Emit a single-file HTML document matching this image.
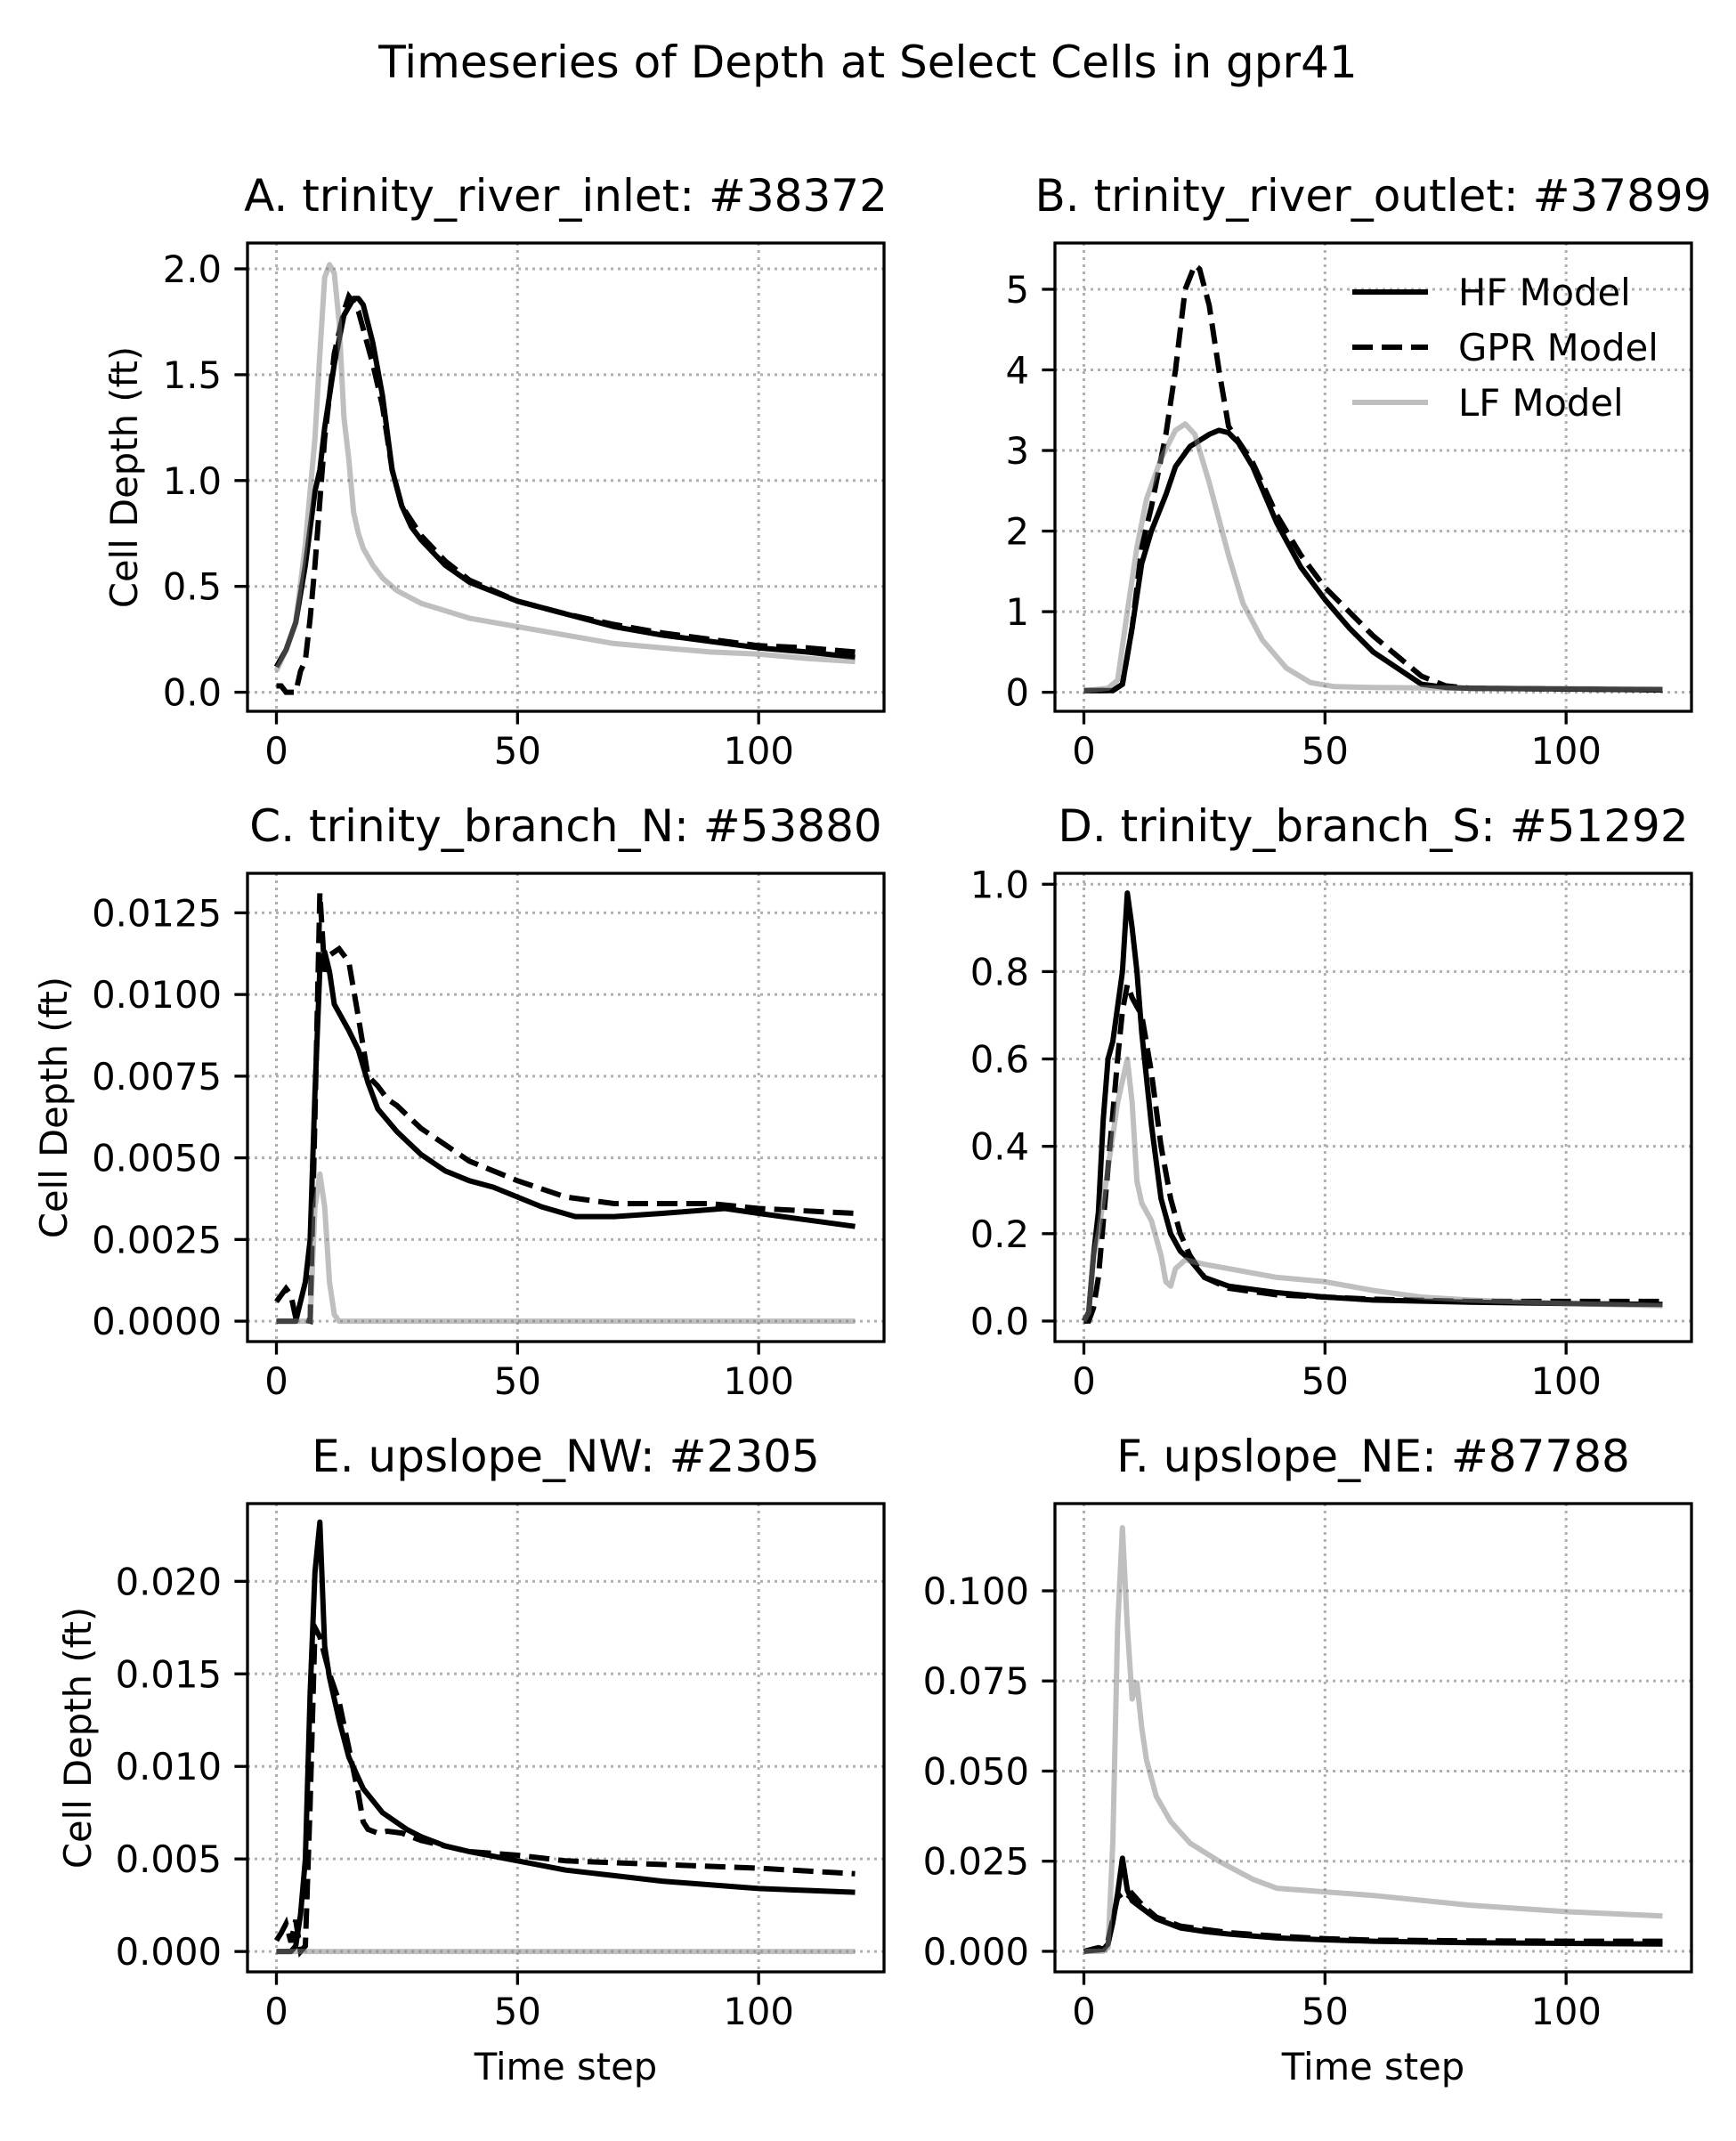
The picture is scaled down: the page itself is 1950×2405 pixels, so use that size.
<!DOCTYPE html>
<html><head><meta charset="utf-8"><style>
html,body{margin:0;padding:0;background:#fff;}
svg text{font-family:"DejaVu Sans","Liberation Sans",sans-serif;fill:#000;}
</style></head><body>
<svg id="fig" xmlns="http://www.w3.org/2000/svg" width="1950" height="2400" viewBox="0 0 1950 2400">
<rect width="1950" height="2400" fill="#fff"/>
<text x="975" y="87" font-size="50" text-anchor="middle">Timeseries of Depth at Select Cells in gpr41</text>
</svg>
<script>
// Panel A
const aHFx=[0,2,4,6,8,9,10,12,14,16,17,18,20,22,24,26,28,30,35,40,50,60,70,80,90,100,110,120];
const aHFy=[0.12,0.2,0.33,0.6,0.95,1.05,1.25,1.55,1.78,1.86,1.86,1.83,1.65,1.4,1.05,0.88,0.78,0.72,0.6,0.52,0.43,0.37,0.31,0.27,0.24,0.21,0.19,0.165];
const aGPx=[0,1,2,3,4,5,6,7,8,10,12,14,15,16,17,20,22,24,26,30,35,40,50,60,70,80,90,100,110,120];
const aGPy=[0.03,0.03,0,0,0,0.1,0.15,0.35,0.6,1.2,1.6,1.8,1.87,1.84,1.8,1.55,1.35,1.05,0.88,0.74,0.62,0.53,0.43,0.37,0.32,0.28,0.25,0.22,0.21,0.19];
const aLFx=[0,2,4,6,8,9,10,11,12,13,14,15,16,17,18,20,22,25,30,40,50,60,70,80,90,100,110,120];
const aLFy=[0.1,0.2,0.33,0.7,1.2,1.6,1.96,2.02,1.98,1.75,1.3,1.1,0.85,0.75,0.68,0.6,0.54,0.48,0.42,0.35,0.31,0.27,0.23,0.21,0.19,0.18,0.16,0.145];
const aTicks=[0,0.5,1,1.5,2]; const aTickLabels=["0.0","0.5","1.0","1.5","2.0"];
// Panel B
const bHFx=[0,6,8,10,12,14,17,19,22,26,28,30,32,35,40,45,50,55,60,65,70,75,80,100,120];
const bHFy=[0.02,0.02,0.1,0.8,1.6,2.0,2.45,2.8,3.05,3.2,3.25,3.22,3.1,2.8,2.1,1.55,1.15,0.8,0.5,0.3,0.1,0.06,0.05,0.04,0.03];
const bGPx=[0,6,8,10,12,14,17,19,20,21,23,24,26,28,30,35,40,45,50,55,60,65,70,75,80,100,120];
const bGPy=[0.02,0.02,0.1,0.8,1.8,2.3,3.2,4.0,4.5,5.0,5.3,5.25,4.8,4.0,3.3,2.85,2.2,1.7,1.3,1.0,0.7,0.45,0.2,0.08,0.05,0.04,0.03];
const bLFx=[0,5,7,9,11,13,16,19,21,23,26,30,33,37,42,47,52,60,80,120];
const bLFy=[0.02,0.05,0.15,1.0,1.8,2.4,2.9,3.25,3.33,3.2,2.6,1.7,1.1,0.65,0.3,0.12,0.07,0.06,0.05,0.04];
const bTicks=[0,1,2,3,4,5]; const bTickLabels=["0","1","2","3","4","5"];
// Panel C
const cHFx=[0,4,6,7,8,9,10,11,12,15,17,19,21,25,30,35,40,45,50,55,62,70,80,93,100,110,120];
const cHFy=[0,0,0.0012,0.0025,0.007,0.0108,0.0113,0.0107,0.0097,0.0089,0.0083,0.0073,0.0065,0.0058,0.0051,0.0046,0.0043,0.0041,0.0038,0.0035,0.0032,0.0032,0.0033,0.00345,0.0033,0.0031,0.0029];
const cGPx=[0,2,3,4,7,8,9,10,11,13,15,17,19,21,23,25,30,35,40,50,60,70,80,90,100,120];
const cGPy=[0.0006,0.001,0.0008,0.0001,0,0.0063,0.0131,0.0107,0.0112,0.0114,0.011,0.0093,0.0075,0.0072,0.0068,0.0066,0.0059,0.0054,0.0049,0.0043,0.0038,0.0036,0.0036,0.0036,0.00345,0.0033];
const cLFx=[0,7,8,9,10,11,12,13,120];
const cLFy=[0,0,0.0035,0.0045,0.0035,0.0012,0.0002,0,0];
const cTicks=[0,0.0025,0.005,0.0075,0.01,0.0125]; const cTickLabels=["0.0000","0.0025","0.0050","0.0075","0.0100","0.0125"];
// Panel D
const dHFx=[0,1,2,3,4,5,6,8,9,10,11,12,14,16,18,20,22,25,30,40,50,60,80,100,120];
const dHFy=[0,0.02,0.15,0.25,0.46,0.6,0.64,0.8,0.98,0.9,0.8,0.66,0.45,0.28,0.2,0.16,0.14,0.1,0.08,0.065,0.055,0.048,0.043,0.04,0.038];
const dGPx=[0,1,2,3,5,7,8,9,10,12,14,16,18,20,22,25,30,40,50,60,80,100,120];
const dGPy=[0,0,0.03,0.1,0.35,0.6,0.71,0.77,0.74,0.7,0.57,0.4,0.28,0.2,0.15,0.1,0.075,0.06,0.055,0.05,0.045,0.045,0.045];
const dLFx=[0,1,2,3,5,7,9,10,11,12,14,16,17,18,19,21,25,30,40,50,60,70,80,100,120];
const dLFy=[0,0.02,0.15,0.2,0.35,0.5,0.6,0.5,0.32,0.27,0.23,0.15,0.09,0.08,0.12,0.14,0.13,0.12,0.1,0.09,0.07,0.055,0.048,0.04,0.035];
const dTicks=[0,0.2,0.4,0.6,0.8,1.0]; const dTickLabels=["0.0","0.2","0.4","0.6","0.8","1.0"];
// Panel E
const eHFx=[0,3,4,5,6,7,8,9,10,11,13,15,18,22,27,30,35,40,50,60,70,80,90,100,110,120];
const eHFy=[0,0,0.0003,0.002,0.005,0.014,0.0205,0.0232,0.0165,0.0148,0.0125,0.0105,0.0088,0.0075,0.0066,0.0062,0.0057,0.0054,0.0049,0.0044,0.0041,0.0038,0.0036,0.0034,0.0033,0.0032];
const eGPx=[0,1,2,3,4,5,6,7,8,9,11,13,15,17,18,19,21,23,26,30,40,50,60,80,100,120];
const eGPy=[0.0006,0.001,0.0015,0.0005,0.0017,0,0.0003,0.008,0.0175,0.017,0.015,0.0135,0.011,0.0085,0.007,0.0066,0.0064,0.0065,0.0064,0.006,0.0054,0.0052,0.0049,0.0047,0.0045,0.0042];
const eLFx=[0,120];
const eLFy=[0,0];
const eTicks=[0,0.005,0.01,0.015,0.02]; const eTickLabels=["0.000","0.005","0.010","0.015","0.020"];
// Panel F
const fHFx=[0,4,5,6,7,8,9,10,12,15,20,25,30,40,50,60,80,100,120];
const fHFy=[0,0.0005,0.002,0.008,0.016,0.0258,0.017,0.014,0.012,0.009,0.0065,0.0055,0.0048,0.0037,0.0032,0.0028,0.0024,0.0022,0.002];
const fGPx=[0,3,4,5,6,7,8,9,10,12,15,20,30,40,50,60,80,100,120];
const fGPy=[0,0.001,0.0006,0.003,0.009,0.015,0.016,0.0145,0.016,0.013,0.0095,0.007,0.0052,0.0042,0.0035,0.0031,0.0029,0.0028,0.0028];
const fLFx=[0,4,5,6,7,8,9,10,11,12,13,15,18,22,28,35,40,60,80,100,120];
const fLFy=[0,0,0.001,0.03,0.09,0.1175,0.09,0.07,0.0745,0.062,0.053,0.043,0.036,0.03,0.025,0.02,0.0175,0.0155,0.0128,0.011,0.0098];
const fTicks=[0,0.025,0.05,0.075,0.1]; const fTickLabels=["0.000","0.025","0.050","0.075","0.100"];

const xTicks=[0,50,100]; const xTickLabels=["0","50","100"];
const seriesNames=["HF Model","GPR Model","LF Model"];

const NS="http://www.w3.org/2000/svg";
const svg=document.getElementById('fig');
function mk(tag,attrs,parent){const e=document.createElementNS(NS,tag);for(const k in attrs)e.setAttribute(k,attrs[k]);(parent||svg).appendChild(e);return e;}
const W=715,H=526;
const XMIN=-6,XMAX=126;
const panels=[
 {id:'a',title:'A. trinity_river_inlet: #38372',x0:278,y0:273,ylim:[-0.09,2.122],ticks:aTicks,labels:aTickLabels,s:[[aHFx,aHFy],[aGPx,aGPy],[aLFx,aLFy]],ylab:140,xlab:false},
 {id:'b',title:'B. trinity_river_outlet: #37899',x0:1185,y0:273,ylim:[-0.236,5.574],ticks:bTicks,labels:bTickLabels,s:[[bHFx,bHFy],[bGPx,bGPy],[bLFx,bLFy]],ylab:0,xlab:false,legend:true},
 {id:'c',title:'C. trinity_branch_N: #53880',x0:278,y0:981,ylim:[-0.000625,0.01371],ticks:cTicks,labels:cTickLabels,s:[[cHFx,cHFy],[cGPx,cGPy],[cLFx,cLFy]],ylab:61,xlab:false},
 {id:'d',title:'D. trinity_branch_S: #51292',x0:1185,y0:981,ylim:[-0.047,1.025],ticks:dTicks,labels:dTickLabels,s:[[dHFx,dHFy],[dGPx,dGPy],[dLFx,dLFy]],ylab:0,xlab:false},
 {id:'e',title:'E. upslope_NW: #2305',x0:278,y0:1689,ylim:[-0.0011,0.0242],ticks:eTicks,labels:eTickLabels,s:[[eHFx,eHFy],[eGPx,eGPy],[eLFx,eLFy]],ylab:88,xlab:true},
 {id:'f',title:'F. upslope_NE: #87788',x0:1185,y0:1689,ylim:[-0.0057,0.1242],ticks:fTicks,labels:fTickLabels,s:[[fHFx,fHFy],[fGPx,fGPy],[fLFx,fLFy]],ylab:0,xlab:true}
];
const styles=[
 {stroke:'#000','stroke-width':6,fill:'none','stroke-linejoin':'round'},
 {stroke:'#000','stroke-width':6,fill:'none','stroke-dasharray':'23 10'},
 {stroke:'rgba(128,128,128,0.5)','stroke-width':6,fill:'none','stroke-linejoin':'round'}
];
const snames=['hf-line','gpr-line','lf-line'];
panels.forEach(p=>{
 const sx=v=>p.x0+(v-XMIN)/(XMAX-XMIN)*W;
 const sy=v=>p.y0+H-(v-p.ylim[0])/(p.ylim[1]-p.ylim[0])*H;
 const g=mk('g',{});
 
 
 const clipId='clip-'+p.id;
 const cp=mk('clipPath',{id:clipId},g);mk('rect',{x:p.x0,y:p.y0,width:W,height:H},cp);
 xTicks.forEach((t,i)=>{
  const l=mk('line',{x1:sx(t),x2:sx(t),y1:p.y0,y2:p.y0+H,stroke:'#b0b0b0','stroke-width':3,'stroke-dasharray':'3 5'},g);
  
  
  const tk=mk('line',{x1:sx(t),x2:sx(t),y1:p.y0+H,y2:p.y0+H+14.6,stroke:'#000','stroke-width':3.3},g);
  
  
  const tx=mk('text',{x:sx(t),y:p.y0+H+59,'font-size':41.7,'text-anchor':'middle'},g);
  tx.textContent=xTickLabels[i];
  
  
 });
 p.ticks.forEach((t,i)=>{
  const l=mk('line',{x1:p.x0,x2:p.x0+W,y1:sy(t),y2:sy(t),stroke:'#b0b0b0','stroke-width':3,'stroke-dasharray':'3 5'},g);
  
  
  const tk=mk('line',{x1:p.x0-14.6,x2:p.x0,y1:sy(t),y2:sy(t),stroke:'#000','stroke-width':3.3},g);
  
  
  const tx=mk('text',{x:p.x0-29,y:sy(t)+15,'font-size':41.7,'text-anchor':'end'},g);
  tx.textContent=p.labels[i];
  
  
 });
 p.s.forEach((s,k)=>{
  const pts=s[0].map((x,i)=>sx(x).toFixed(1)+','+sy(s[1][i]).toFixed(1)).join(' ');
  const pl=mk('polyline',Object.assign({points:pts,'clip-path':'url(#'+clipId+')'},styles[k]),g);
  
  
 });
 const fr=mk('rect',{x:p.x0,y:p.y0,width:W,height:H,fill:'none',stroke:'#000','stroke-width':3.3},g);
 
 
 const tt=mk('text',{x:p.x0+W/2,y:p.y0-36,'font-size':50,'text-anchor':'middle'},g);
 tt.textContent=p.title;
 
 
 if(p.ylab){
  const yl=mk('text',{x:0,y:0,'font-size':41.7,'text-anchor':'middle',transform:'translate('+(p.ylab+14)+','+(p.y0+H/2)+') rotate(-90)'},g);
  yl.textContent='Cell Depth (ft)';
  
  
 }
 if(p.xlab){
  const xl=mk('text',{x:p.x0+W/2,y:2336,'font-size':41.7,'text-anchor':'middle'},g);
  xl.textContent='Time step';
  
  
 }
 if(p.legend){
  seriesNames.forEach((n,k)=>{
   const ly=328+k*62;
   const le=mk('g',{},g);
   
   
   mk('line',Object.assign({x1:1519,x2:1604,y1:ly,y2:ly},styles[k],k==2?{stroke:'#bfbfbf'}:{}),le);
   const t=mk('text',{x:1638,y:ly+15,'font-size':41.7},le);
   t.textContent=n;
  });
 }
});
</script>
</body></html>
